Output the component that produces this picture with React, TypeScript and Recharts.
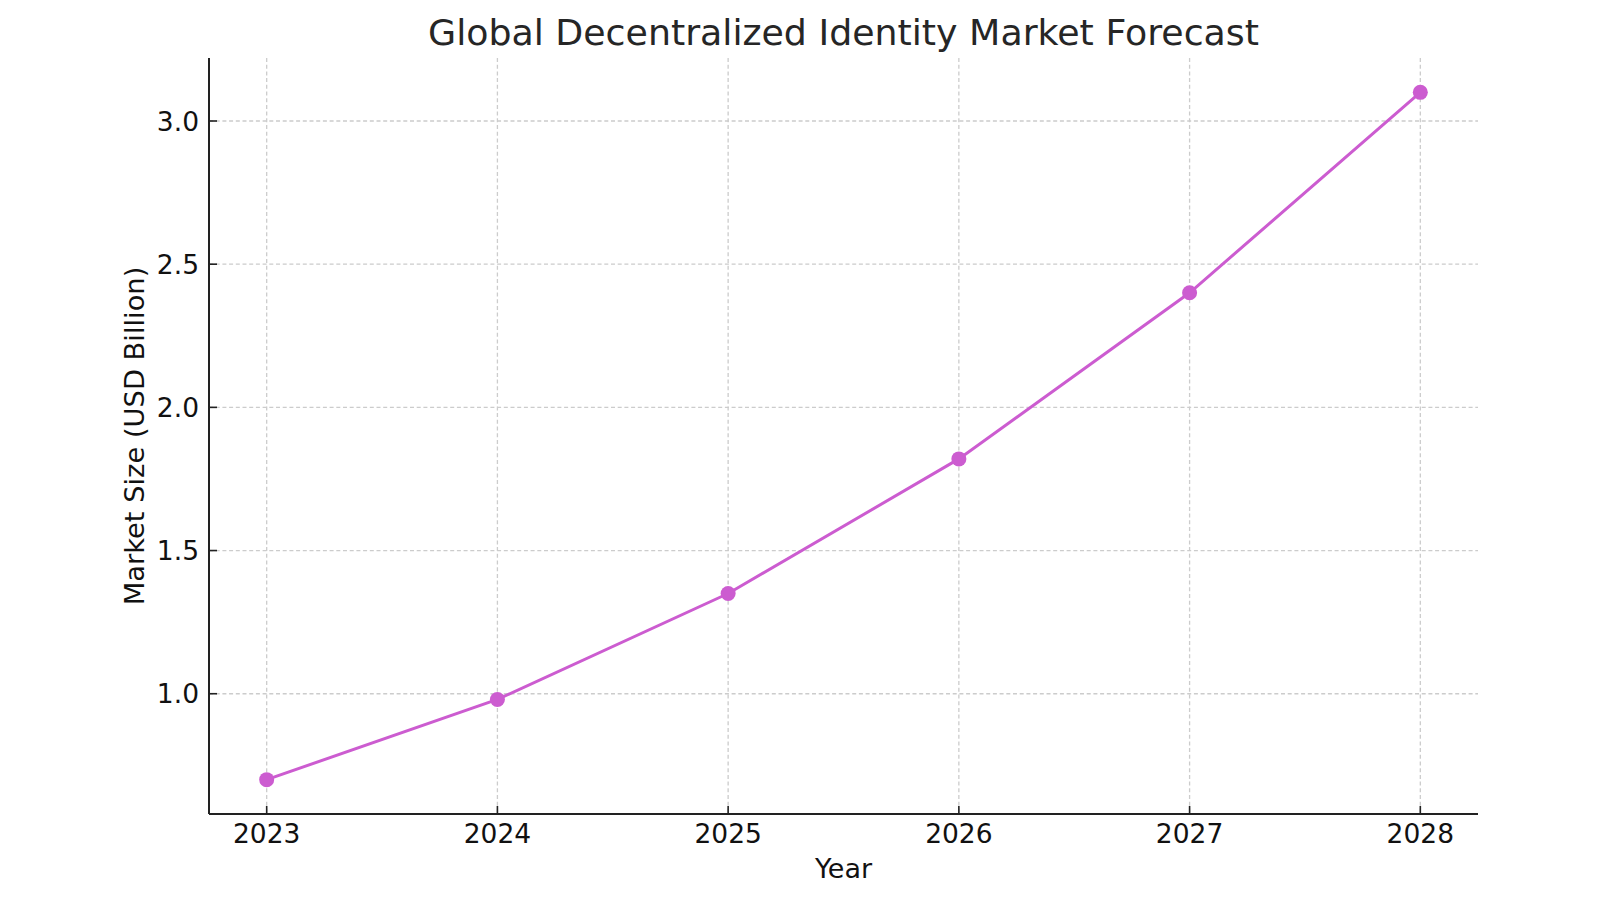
import { LineChart, Line, XAxis, YAxis, CartesianGrid } from 'recharts';

// Forecast market size, USD billion
const years = [2023, 2024, 2025, 2026, 2027, 2028];
const marketSize = [0.7, 0.98, 1.35, 1.82, 2.4, 3.1];
const yTicks = [1.0, 1.5, 2.0, 2.5, 3.0];

const data = years.map((year, i) => ({ year, size: marketSize[i] }));

const FONT = '"DejaVu Sans", sans-serif';
const LINE_COLOR = '#cc5cd0';
const TICK_LEN = 8;
const X_GAP = 29;
const Y_GAP = 10;

// Ticks drawn inward from the spine, label outside
// eslint-disable-next-line @typescript-eslint/no-explicit-any
function XTick(props: any) {
  const { x, y, payload } = props;
  const axisY = y - X_GAP;
  return (
    <g>
      <line x1={x} y1={axisY} x2={x} y2={axisY - TICK_LEN} stroke="#222" strokeWidth={1.6} />
      <text x={x} y={y} textAnchor="middle" fontFamily={FONT} fontSize={26.5} fill="#111">
        {payload.value}
      </text>
    </g>
  );
}

// eslint-disable-next-line @typescript-eslint/no-explicit-any
function YTick(props: any) {
  const { x, y, payload } = props;
  const axisX = x + Y_GAP;
  return (
    <g>
      <line x1={axisX} y1={y} x2={axisX + TICK_LEN} y2={y} stroke="#222" strokeWidth={1.6} />
      <text x={x} y={y} dy="0.36em" textAnchor="end" fontFamily={FONT} fontSize={26.5} fill="#111">
        {Number(payload.value).toFixed(1)}
      </text>
    </g>
  );
}

export default function App() {
  return (
    <div style={{ position: 'absolute', left: 0, top: 0, width: 1600, height: 900, background: '#fff' }}>
      <svg width={1600} height={60} style={{ position: 'absolute', left: 0, top: 0 }}>
        <text x={843.5} y={45} textAnchor="middle" fontFamily={FONT} fontSize={36.3} fill="#262626">
          Global Decentralized Identity Market Forecast
        </text>
      </svg>
      <LineChart
        width={1600}
        height={900}
        data={data}
        margin={{ top: 58, right: 122, bottom: 0, left: 0 }}
      >
        <CartesianGrid
          stroke="#cccccc"
          strokeWidth={1.3}
          strokeDasharray="4 2.7"
          horizontalValues={yTicks}
          verticalValues={years}
        />
        <XAxis
          dataKey="year"
          type="number"
          domain={[2022.75, 2028.25]}
          ticks={years}
          height={86}
          tickSize={0}
          tickMargin={X_GAP}
          tick={<XTick />}
          axisLine={{ stroke: '#222', strokeWidth: 2 }}
          label={{
            value: 'Year',
            position: 'insideBottom',
            offset: 22,
            fontFamily: FONT,
            fontSize: 27,
            fill: '#111',
          }}
          allowDataOverflow
        />
        <YAxis
          type="number"
          domain={[0.58, 3.22]}
          ticks={yTicks}
          width={209}
          tickSize={0}
          tickMargin={Y_GAP}
          tick={<YTick />}
          axisLine={{ stroke: '#222', strokeWidth: 2 }}
          label={{
            value: 'Market Size (USD Billion)',
            angle: -90,
            position: 'insideLeft',
            offset: 134,
            fontFamily: FONT,
            fontSize: 27.3,
            fill: '#111',
            style: { textAnchor: 'middle' },
          }}
          allowDataOverflow
        />
        <Line
          type="linear"
          dataKey="size"
          stroke={LINE_COLOR}
          strokeWidth={3}
          dot={{ r: 7.5, fill: LINE_COLOR, stroke: LINE_COLOR, strokeWidth: 0 }}
          isAnimationActive={false}
        />
      </LineChart>
    </div>
  );
}
